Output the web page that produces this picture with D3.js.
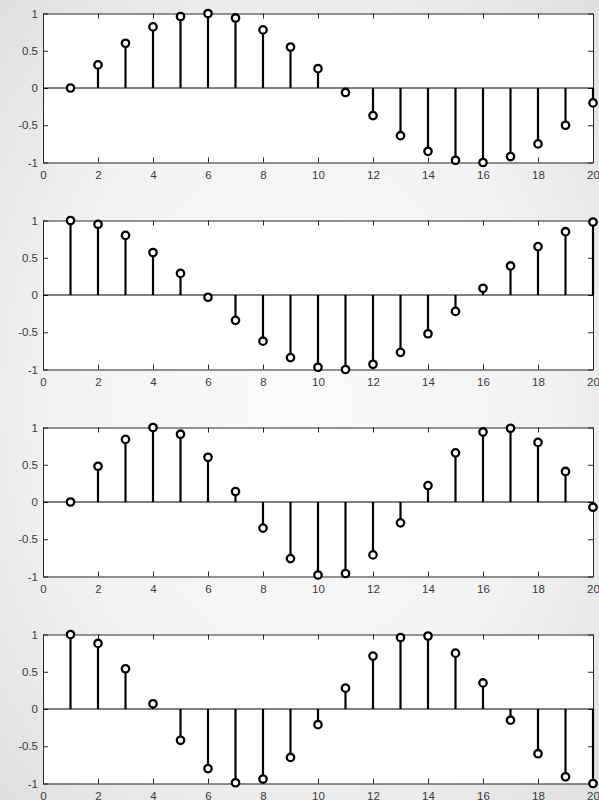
<!DOCTYPE html>
<html>
<head>
<meta charset="utf-8">
<script src="https://cdn.jsdelivr.net/npm/d3@7"></script>
<style>
  html, body { margin: 0; padding: 0; }
  body { width: 599px; height: 800px; overflow: hidden; }
</style>
</head>
<body>
<div id="chart"></div>
<script>
// sample index n = 1..20
const samples = d3.range(1, 21);

// values
const seriesA = [0, 0.31, 0.6, 0.82, 0.96, 1.0, 0.94, 0.78, 0.55, 0.26,
                 -0.06, -0.37, -0.64, -0.85, -0.97, -1.0, -0.92, -0.75, -0.5, -0.2];
const seriesB = [1.0, 0.95, 0.8, 0.57, 0.29, -0.03, -0.34, -0.62, -0.84, -0.97,
                 -1.0, -0.93, -0.77, -0.52, -0.22, 0.09, 0.39, 0.65, 0.85, 0.98];
const seriesC = [0, 0.48, 0.84, 1.0, 0.91, 0.6, 0.14, -0.35, -0.76, -0.98,
                 -0.96, -0.71, -0.28, 0.22, 0.66, 0.94, 0.99, 0.8, 0.41, -0.07];
const seriesD = [1.0, 0.88, 0.54, 0.07, -0.42, -0.8, -0.99, -0.94, -0.65, -0.21,
                 0.28, 0.71, 0.96, 0.98, 0.75, 0.35, -0.15, -0.6, -0.91, -1.0];

const xTicks = [0, 2, 4, 6, 8, 10, 12, 14, 16, 18, 20];
const yTicks = [-1, -0.5, 0, 0.5, 1];

const allSeries = [seriesA, seriesB, seriesC, seriesD];

let width = 599, height = 800;
let margin = {left: 43, right: 6};
let panelTop = 13.5, panelH = 149, panelStep = 207;
let plotW = width - margin.left - margin.right;

let svg = d3.select('#chart').append('svg')
    .attr('width', width)
    .attr('height', height);

let grad = svg.append('defs').append('radialGradient')
    .attr('id', 'bg')
    .attr('cx', '50%').attr('cy', '50%').attr('r', '75%');
grad.append('stop').attr('offset', '0%').attr('stop-color', '#fbfbfb');
grad.append('stop').attr('offset', '55%').attr('stop-color', '#f2f2f2');
grad.append('stop').attr('offset', '100%').attr('stop-color', '#dcdcdc');

svg.append('rect')
    .attr('width', width).attr('height', height)
    .attr('fill', 'url(#bg)');

let xScale = d3.scaleLinear().domain([0, 20]).range([0, plotW]);
let yScale = d3.scaleLinear().domain([-1, 1]).range([panelH, 0]);

allSeries.forEach((values, i) => {
    let g = svg.append('g')
        .attr('transform', 'translate(' + margin.left + ',' + (panelTop + i * panelStep) + ')');

    g.append('rect')
        .attr('width', plotW).attr('height', panelH)
        .attr('fill', '#fff');

    // axes with inward ticks on every side
    let axes = [
        {ax: d3.axisBottom(xScale).tickValues(xTicks).tickFormat(d3.format('d')), t: 'translate(0,' + panelH + ')', pad: 8},
        {ax: d3.axisTop(xScale).tickValues(xTicks), t: null, pad: null},
        {ax: d3.axisLeft(yScale).tickValues(yTicks).tickFormat(d => d === 0 ? '0' : String(d)), t: null, pad: 5},
        {ax: d3.axisRight(yScale).tickValues(yTicks), t: 'translate(' + plotW + ',0)', pad: null}
    ];
    axes.forEach(a => {
        a.ax.tickSizeInner(-5).tickSizeOuter(0).tickPadding(a.pad || 0);
        if (a.pad === null) a.ax.tickFormat('');
        let ag = g.append('g').call(a.ax)
            .attr('font-family', '"Liberation Sans", Arial, sans-serif')
            .attr('font-size', 11.5);
        if (a.t) ag.attr('transform', a.t);
        ag.select('.domain').attr('stroke', '#262626');
        ag.selectAll('.tick line').attr('stroke', '#262626');
    });

    g.selectAll('.tick text').attr('fill', '#3a3a3a');

    // zero baseline
    g.append('line')
        .attr('x1', 0).attr('x2', plotW)
        .attr('y1', yScale(0)).attr('y2', yScale(0))
        .attr('stroke', '#000').attr('stroke-width', 1);

    let data = samples.map((n, k) => ({n: n, v: values[k]}));

    g.selectAll('.stem').data(data).enter().append('line')
        .attr('class', 'stem')
        .attr('x1', d => xScale(d.n)).attr('x2', d => xScale(d.n))
        .attr('y1', yScale(0)).attr('y2', d => yScale(d.v))
        .attr('stroke', '#000').attr('stroke-width', 2.2);

    g.selectAll('.mark').data(data).enter().append('circle')
        .attr('class', 'mark')
        .attr('cx', d => xScale(d.n)).attr('cy', d => yScale(d.v))
        .attr('r', 3.7)
        .attr('fill', '#fff').attr('stroke', '#000').attr('stroke-width', 2.3);
});
</script>
</body>
</html>
